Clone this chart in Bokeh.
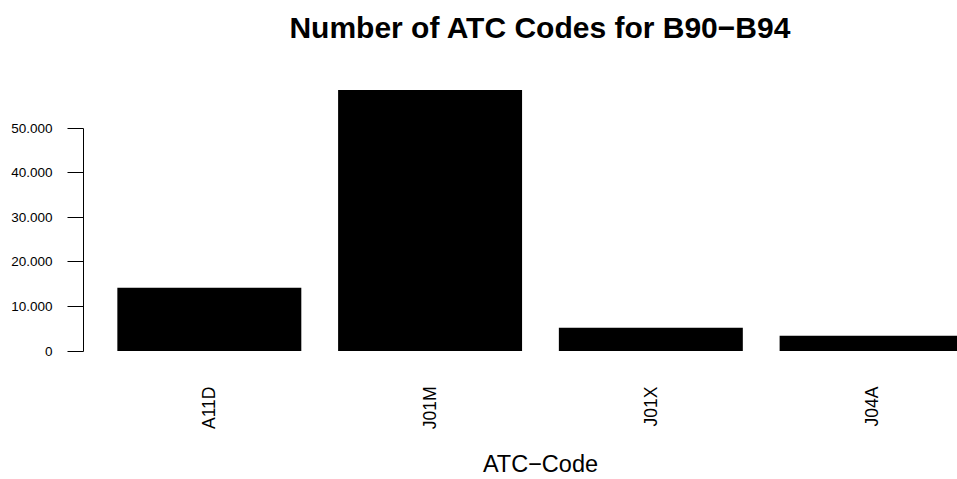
import math
from bokeh.plotting import figure
from bokeh.models import Range1d, FixedTicker, LinearAxis
from bokeh.embed import file_html
from bokeh.resources import INLINE

# ---- data ----
categories = ["A11D", "J01M", "J01X", "J04A"]
counts = [14200, 58600, 5240, 3450]
y_ticks = [0, 10000, 20000, 30000, 40000, 50000]
y_tick_labels = ["0", "10.000", "20.000", "30.000", "40.000", "50.000"]
title_text = "Number of ATC Codes for B90\u2212B94"
xlabel_text = "ATC\u2212Code"

# R barplot layout: width 1, space 0.2
bar_width = 1.0
space = 0.2
centers = [space * (i + 1) + bar_width * i + bar_width / 2 for i in range(len(categories))]
span_lo = space
span_hi = centers[-1] + bar_width / 2
x_start = span_lo - 0.04 * (span_hi - span_lo)
ymax = max(counts)
y_lo, y_hi = -0.04 * ymax, 1.04 * ymax

FONT = "Liberation Sans"
W, H = 957, 479
BL, BT, FH = 83, 79, 283

p = figure(
    width=W, height=H,
    output_backend="svg", toolbar_location=None,
    x_range=Range1d(x_start, 4.767),
    y_range=Range1d(y_lo, y_hi),
    min_border_left=BL, min_border_right=0,
    min_border_top=BT, min_border_bottom=H - BT - FH,
    background_fill_color="white", border_fill_color="white",
)
p.outline_line_color = None
p.xgrid.visible = False
p.ygrid.visible = False

p.vbar(x=centers, width=bar_width, top=counts, bottom=0,
       fill_color="black", line_color=None)

# y axis
ya = p.yaxis[0]
ya.ticker = FixedTicker(ticks=y_ticks)
ya.major_label_overrides = {t: l for t, l in zip(y_ticks, y_tick_labels)}
ya.bounds = (y_ticks[0], y_ticks[-1])
ya.minor_tick_line_color = None
ya.major_tick_out = 16
ya.major_tick_in = 0
ya.major_label_standoff = 15
ya.major_label_text_font = FONT
ya.major_label_text_font_size = "13.5px"
ya.major_label_text_color = "black"
ya.axis_line_color = "black"
ya.major_tick_line_color = "black"

# x axis (category names)
xa = p.xaxis[0]
xa.ticker = FixedTicker(ticks=centers)
xa.major_label_overrides = {c: n for c, n in zip(centers, categories)}
xa.major_label_orientation = math.pi / 2
xa.minor_tick_line_color = None
xa.major_tick_line_color = None
xa.major_tick_out = 0
xa.major_tick_in = 0
xa.axis_line_color = None
xa.major_label_standoff = 25
xa.major_label_text_font = FONT
xa.major_label_text_font_size = "17.5px"
xa.major_label_text_color = "black"

mid = (span_lo + span_hi) / 2


def text_axis(text, size, style, standoff):
    ax = LinearAxis(ticker=FixedTicker(ticks=[mid]),
                    major_label_overrides={mid: text})
    ax.axis_line_color = None
    ax.major_tick_line_color = None
    ax.minor_tick_line_color = None
    ax.major_tick_out = 0
    ax.major_tick_in = 0
    ax.major_label_standoff = standoff
    ax.major_label_text_font = FONT
    ax.major_label_text_font_size = size
    ax.major_label_text_font_style = style
    ax.major_label_text_color = "black"
    return ax


p.add_layout(text_axis(title_text, "30px", "bold", 36), "above")
p.add_layout(text_axis(xlabel_text, "23.5px", "normal", 18), "below")

open("out.html", "w").write(file_html(p, INLINE))
